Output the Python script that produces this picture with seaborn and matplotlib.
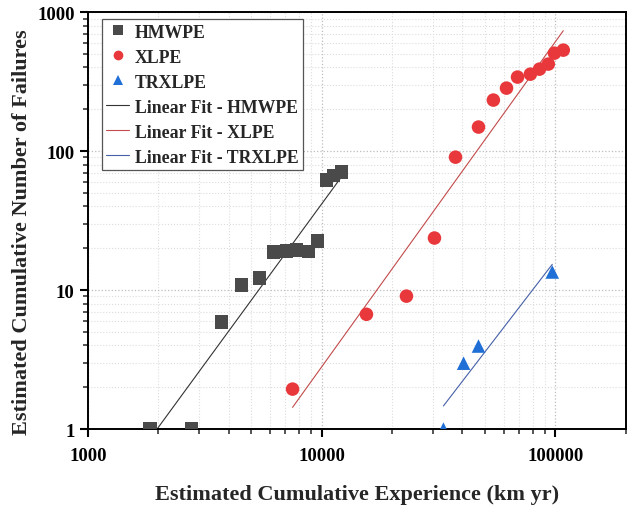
import numpy as np
import pandas as pd
import matplotlib
matplotlib.use("Agg")
import matplotlib.pyplot as plt
import seaborn as sns
from matplotlib.ticker import LogLocator, NullFormatter, FixedLocator, FixedFormatter
from matplotlib.lines import Line2D

# ---- data ----
hmwpe_x = [1850, 2780, 3740, 4550, 5430, 6240, 7080, 7820, 8790, 9620, 10500, 11250, 12160]
hmwpe_y = [1, 1, 5.9, 10.9, 12.2, 18.8, 19.1, 19.4, 19.0, 22.5, 62, 67, 70.6]

xlpe_x = [7515, 15560, 23070, 30400, 37400, 46900, 54300, 61800, 68900, 78200, 85500, 93300, 99100, 108100]
xlpe_y = [1.94, 6.7, 9.05, 23.7, 90.5, 149, 233, 284, 341, 358, 389, 423, 507, 533]

trxlpe_x = [33200, 40500, 46900, 97000]
trxlpe_y = [1, 2.98, 3.96, 13.5]

series_names = ["HMWPE", "XLPE", "TRXLPE"]
fit_names = ["Linear Fit - HMWPE", "Linear Fit - XLPE", "Linear Fit - TRXLPE"]
x_ticks = [1000, 10000, 100000]
x_tick_labels = ["1000", "10000", "100000"]
y_ticks = [1, 10, 100, 1000]
y_tick_labels = ["1", "10", "100", "1000"]

point_colors = {"HMWPE": "#4a4a4a", "XLPE": "#e8383b", "TRXLPE": "#1f6fd6"}
fit_colors = {"Linear Fit - HMWPE": "#333333", "Linear Fit - XLPE": "#c24a4a",
              "Linear Fit - TRXLPE": "#4660a8"}
markers = {"HMWPE": "s", "XLPE": "o", "TRXLPE": "^"}

# ---- tables ----
pts = pd.concat([
    pd.DataFrame({"x": hmwpe_x, "y": hmwpe_y, "type": "HMWPE"}),
    pd.DataFrame({"x": xlpe_x, "y": xlpe_y, "type": "XLPE"}),
    pd.DataFrame({"x": trxlpe_x, "y": trxlpe_y, "type": "TRXLPE"}),
], ignore_index=True)

fits = []
for name, fname in zip(series_names, fit_names):
    d = pts[pts["type"] == name]
    b, a = np.polyfit(np.log10(d["x"]), np.log10(d["y"]), 1)
    xs = np.array([d["x"].min(), d["x"].max()])
    fits.append(pd.DataFrame({"x": xs, "y": 10 ** (a + b * np.log10(xs)), "fit": fname}))
fits = pd.concat(fits, ignore_index=True)

# ---- plot ----
sns.set_style("white")
plt.rcParams["font.family"] = ["Liberation Serif", "DejaVu Serif"]
plt.rcParams["font.weight"] = "bold"

fig = plt.figure(figsize=(6.27, 5.06), dpi=100)
ax = fig.add_axes([0.140, 0.150, 0.858, 0.824])
ax.set_xscale("log")
ax.set_yscale("log")

ax.grid(True, which="major", color="#bdbdbd", linestyle=":", linewidth=0.9)
ax.grid(True, which="minor", color="#dddddd", linestyle=":", linewidth=0.8)
ax.set_axisbelow(True)

sns.scatterplot(data=pts, x="x", y="y", hue="type", style="type",
                palette=point_colors, markers=markers, s=95, edgecolor="none",
                ax=ax, zorder=3, legend=False)
sns.lineplot(data=fits, x="x", y="y", hue="fit", palette=fit_colors,
             linewidth=0.8, ax=ax, legend=False, zorder=2, estimator=None, sort=False)

ax.set_xlim(1000, 200000)
ax.set_ylim(1, 1000)

ax.xaxis.set_major_locator(FixedLocator(x_ticks))
ax.xaxis.set_major_formatter(FixedFormatter(x_tick_labels))
ax.yaxis.set_major_locator(FixedLocator(y_ticks))
ax.yaxis.set_major_formatter(FixedFormatter(y_tick_labels))
ax.xaxis.set_minor_locator(LogLocator(base=10, subs=np.arange(2, 10)))
ax.yaxis.set_minor_locator(LogLocator(base=10, subs=np.arange(2, 10)))
ax.xaxis.set_minor_formatter(NullFormatter())
ax.yaxis.set_minor_formatter(NullFormatter())

ax.tick_params(axis="both", which="major", direction="out", length=6, width=1.5,
               labelsize=13.5, colors="black", bottom=True, left=True, top=False, right=False)
ax.tick_params(axis="x", which="major", pad=7)
ax.tick_params(axis="both", which="minor", direction="out", length=3.5, width=1.1,
               bottom=True, left=True, top=False, right=False)
for lab in ax.get_xticklabels() + ax.get_yticklabels():
    lab.set_fontweight("bold")

for sp in ax.spines.values():
    sp.set_color("black")
    sp.set_linewidth(1.4)

ax.set_xlabel("Estimated Cumulative Experience (km yr)", fontsize=16,
              fontweight="bold", labelpad=14)
ax.set_ylabel("Estimated Cumulative Number of Failures", fontsize=16,
              fontweight="bold")
ax.yaxis.set_label_coords(-0.103, 0.475)

# legend
handles = [Line2D([], [], linestyle="none", marker=markers[n], color=point_colors[n],
                  markersize=7, markeredgewidth=0) for n in series_names]
handles += [Line2D([], [], color=fit_colors[f], linewidth=0.8) for f in fit_names]
labels = series_names + fit_names
leg = ax.legend(handles, labels, loc="upper left", bbox_to_anchor=(0.026, 0.983),
                prop={"family": "Liberation Serif", "weight": "bold", "size": 12.8},
                frameon=True, fancybox=False, edgecolor="#555555", framealpha=1,
                handlelength=1.3, handletextpad=0.3, labelspacing=0.45,
                borderpad=0.25, borderaxespad=0.0)
leg.get_frame().set_linewidth(0.9)

fig.savefig("out.png", dpi=100)
